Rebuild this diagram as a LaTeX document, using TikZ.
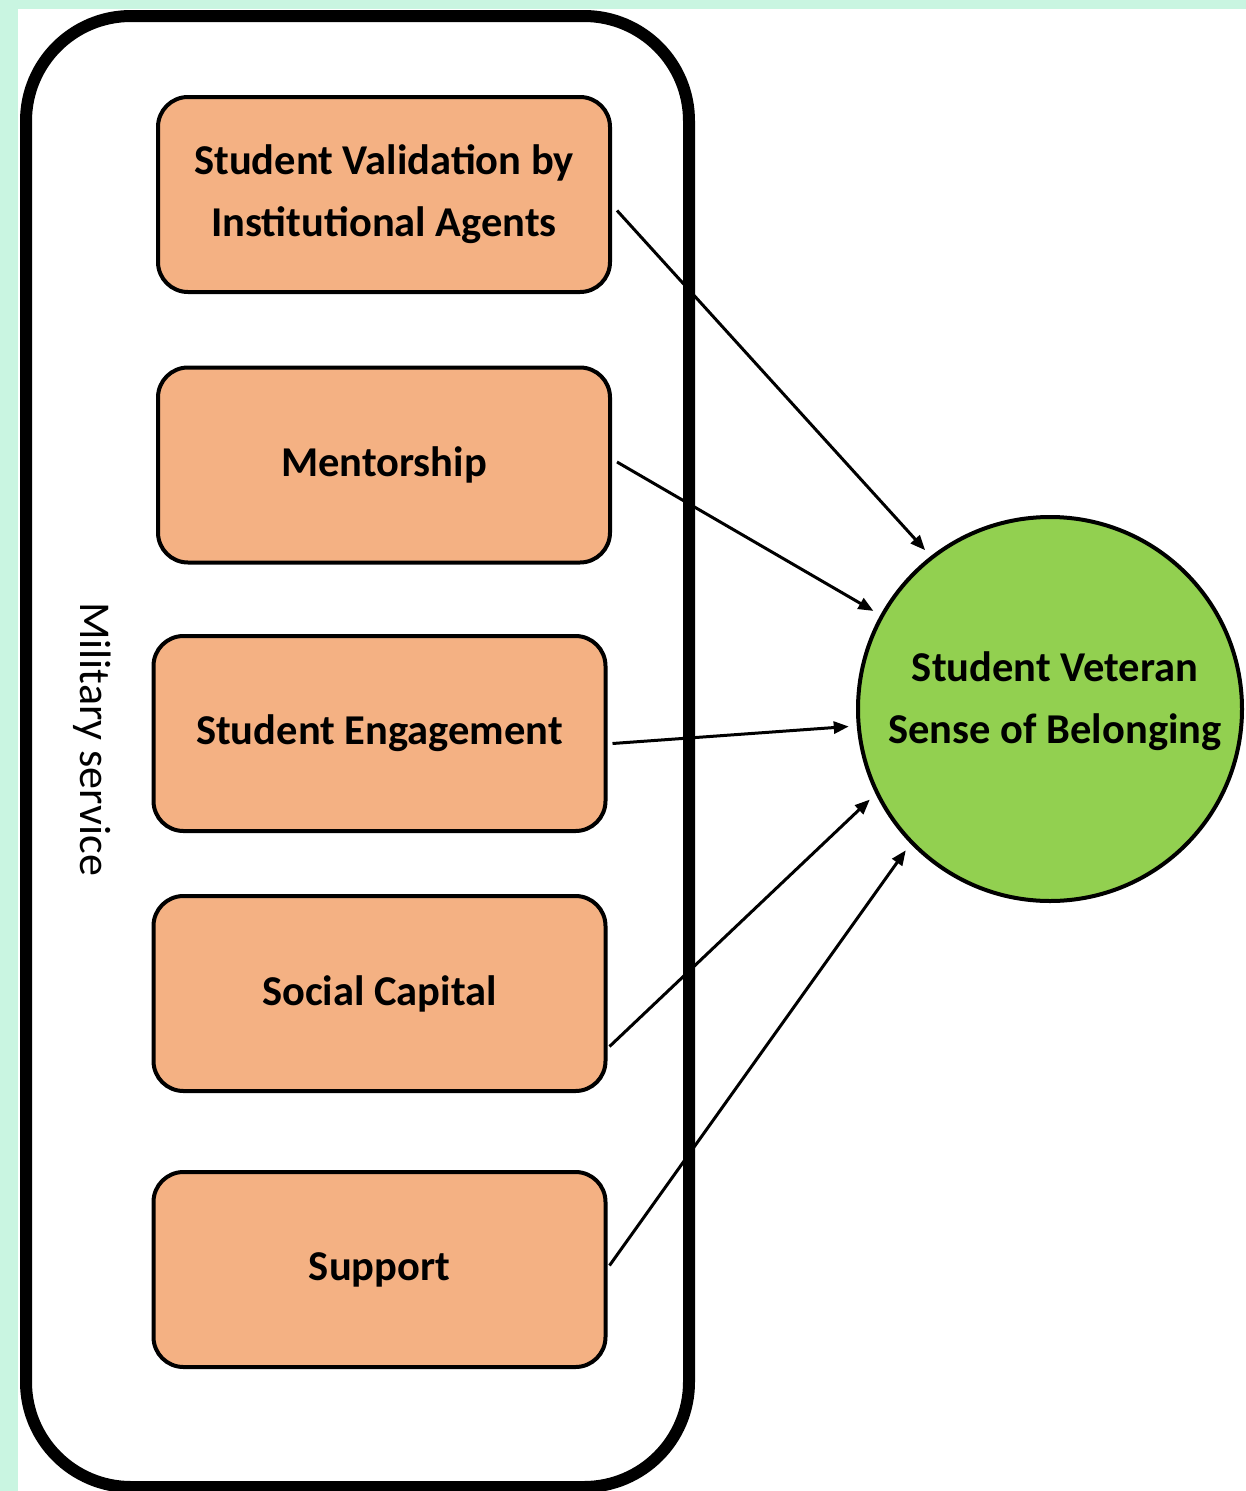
\documentclass[tikz,border=0pt]{standalone}
\usepackage{fontspec}
\setmainfont{Carlito}
\usetikzlibrary{arrows.meta,shapes.geometric}
\definecolor{mint}{HTML}{C9F5E1}
\definecolor{boxorange}{HTML}{F4B183}
\definecolor{circgreen}{HTML}{92D050}
\begin{document}
\begin{tikzpicture}[x=1pt,y=-1pt,
  factor/.style={draw=black,line width=4pt,fill=boxorange,rounded corners=30pt,
    minimum width=452pt,minimum height=195pt,align=center,
    font=\fontsize{42.5}{62}\selectfont\bfseries,inner sep=0pt},
  outcome/.style={circle,draw=black,line width=4pt,fill=circgreen,minimum size=384pt,inner sep=0pt},
  outtext/.style={align=center,font=\fontsize{42.5}{62}\selectfont\bfseries,inner sep=0pt},
  arr/.style={line width=3pt,-{Triangle[length=15pt,width=12pt]},shorten >=8pt}]
\useasboundingbox (0,0) rectangle (1246,1491);
\fill[mint] (0,0) rectangle (1246,1491);
\fill[white] (18,9) rectangle (1246,1491);
\draw[line width=12pt,rounded corners=105pt] (26,16) rectangle (689,1487);
\node[rotate=-90,font=\fontsize{44}{50}\selectfont] (mil) at (92,739) {Military service};
\node[factor] (b1) at (384,194.5) {Student Validation by\\Institutional Agents};
\node[factor] (b2) at (384,465) {\raisebox{-4pt}{Mentorship}};
\node[factor] (b3) at (379.5,733.5) {\raisebox{4pt}{Student Engagement}};
\node[factor] (b4) at (379.5,993.5) {Social Capital};
\node[factor] (b5) at (379.5,1269.5) {Support};
\node[outcome] (c) at (1050,709) {};
\node[outtext] (ct) at (1055,701) {Student Veteran\\Sense of Belonging};
\draw[arr] ([shift={(5,16)}]b1.east) -- (c.128);
\draw[arr] ([shift={(5,-3)}]b2.east) -- (c.151);
\draw[arr] ([shift={(5,10)}]b3.east) -- (c.185);
\draw[arr] ([shift={(2,53)}]b4.east) -- (c.206);
\draw[arr] ([shift={(2,-4)}]b5.east) -- (c.224);
\end{tikzpicture}
\end{document}
